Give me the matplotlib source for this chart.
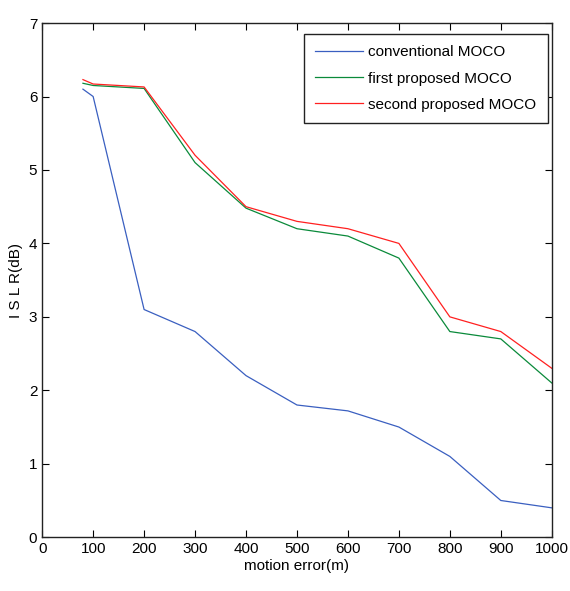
import numpy as np
import matplotlib.pyplot as plt

plt.rcParams['font.family'] = ['Liberation Sans', 'DejaVu Sans']

motion_error = [80, 100, 200, 300, 400, 500, 600, 700, 800, 900, 1000]
conventional = [6.1, 6.0, 3.1, 2.8, 2.2, 1.8, 1.72, 1.5, 1.1, 0.5, 0.4]
first_prop = [6.18, 6.15, 6.11, 5.1, 4.48, 4.2, 4.1, 3.8, 2.8, 2.7, 2.1]
second_prop = [6.23, 6.17, 6.13, 5.2, 4.5, 4.3, 4.2, 4.0, 3.0, 2.8, 2.3]

fig = plt.figure(figsize=(5.7, 5.91), dpi=100)
ax = fig.add_axes([0.074, 0.091, 0.894, 0.870])

ax.plot(motion_error, conventional, color='#3a5fc0', lw=0.9, label='conventional MOCO')
ax.plot(motion_error, first_prop, color='#0a8a3a', lw=0.9, label='first proposed MOCO')
ax.plot(motion_error, second_prop, color='#ff2020', lw=0.9, label='second proposed MOCO')

ax.set_xlim(0, 1000)
ax.set_ylim(0, 7)
ax.set_xticks(np.arange(0, 1001, 100))
ax.set_yticks(np.arange(0, 8, 1))
ax.tick_params(direction='in', top=True, right=True, labelsize=11, length=5, width=0.8)
for s in ax.spines.values():
    s.set_linewidth(1.0)
    s.set_color('#222222')

ax.set_xlabel('motion error(m)', fontsize=11, labelpad=2)
ax.set_ylabel('I S L R(dB)', fontsize=11, labelpad=4)

# legend box sits just inside the top right corner
leg = ax.legend(loc='upper right', bbox_to_anchor=(0.992, 0.979), borderaxespad=0,
                fontsize=11, fancybox=False, framealpha=1, edgecolor='#222222',
                handlelength=3.1, handletextpad=0.35, labelspacing=0.8,
                borderpad=0.75)
leg.get_frame().set_linewidth(1.0)

fig.savefig('out.png')
